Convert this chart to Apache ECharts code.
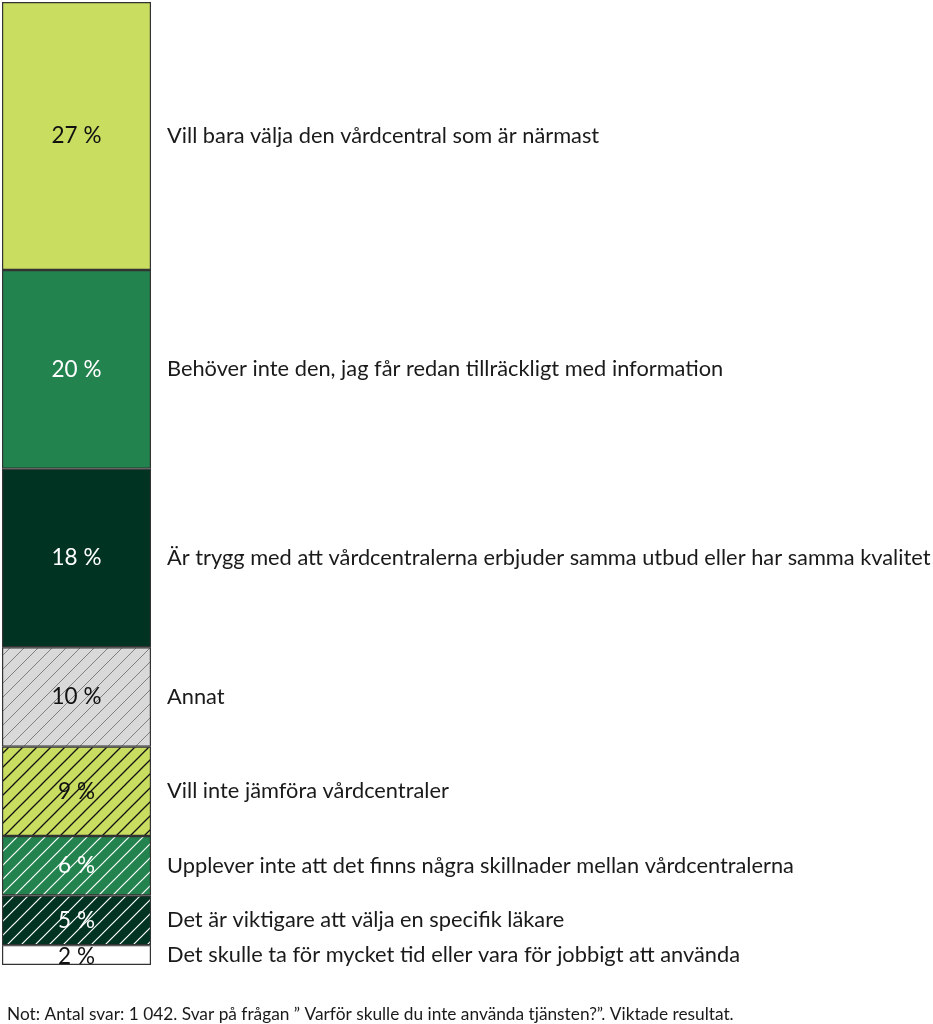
<!DOCTYPE html>
<html>
<head>
<meta charset="utf-8">
<script src="https://cdn.jsdelivr.net/npm/echarts@6/dist/echarts.min.js"></script>
<style>
html,body{margin:0;padding:0;background:#fff;}
#c{width:933px;height:1024px;}
</style>
</head>
<body>
<div id="c"></div>
<script>
const categories = [
  'Vill bara välja den vårdcentral som är närmast',
  'Behöver inte den, jag får redan tillräckligt med information',
  'Är trygg med att vårdcentralerna erbjuder samma utbud eller har samma kvalitet',
  'Annat',
  'Vill inte jämföra vårdcentraler',
  'Upplever inte att det finns några skillnader mellan vårdcentralerna',
  'Det är viktigare att välja en specifik läkare',
  'Det skulle ta för mycket tid eller vara för jobbigt att använda'
];
const values = [27, 20, 18, 10, 9, 6, 5, 2];
const valueLabels = ['27 %', '20 %', '18 %', '10 %', '9 %', '6 %', '5 %', '2 %'];
const note = 'Not: Antal svar: 1 042. Svar på frågan ” Varför skulle du inte använda tjänsten?”. Viktade resultat.';

const FONT = 'Lato';

function hatch(bg, line, w) {
  const s = 14;
  const c = document.createElement('canvas');
  c.width = s; c.height = s;
  const g = c.getContext('2d');
  g.fillStyle = bg; g.fillRect(0, 0, s, s);
  g.strokeStyle = line; g.lineWidth = w;
  g.beginPath();
  g.moveTo(-1, s + 1); g.lineTo(s + 1, -1);
  g.moveTo(-1, 1); g.lineTo(1, -1);
  g.moveTo(s - 1, s + 1); g.lineTo(s + 1, s - 1);
  g.stroke();
  return { image: c, repeat: 'repeat' };
}

const fills = [
  '#c9dd60',
  '#23834f',
  '#003322',
  hatch('#d9d9d9', '#808080', 1),
  hatch('#c9dd60', '#111111', 1.3),
  hatch('#23834f', '#ffffff', 1.2),
  hatch('#003322', '#ffffff', 1.2),
  '#ffffff'
];
const pctColors = ['#111', '#fff', '#fff', '#111', '#111', '#fff', '#fff', '#111'];

const series = [];
values.forEach((v, i) => {
  series.push({
    type: 'bar', stack: 'main', xAxisIndex: 0, yAxisIndex: 0,
    barWidth: '100%', data: [v], silent: true,
    itemStyle: { color: fills[i], borderColor: '#333', borderWidth: 1.2 },
    label: {
      show: true, position: 'right', distance: 16,
      formatter: categories[i], color: '#1a1a1a',
      fontFamily: FONT, fontSize: 21.8
    }
  });
});
values.forEach((v, i) => {
  series.push({
    type: 'bar', stack: 'pct', xAxisIndex: 1, yAxisIndex: 0,
    barWidth: '100%', data: [v], silent: true,
    itemStyle: { color: 'rgba(0,0,0,0)' },
    label: {
      show: true, position: 'inside', offset: [0, i === values.length - 1 ? 2 : 0],
      formatter: valueLabels[i], color: pctColors[i],
      fontFamily: FONT, fontSize: 22.5
    },
    z: 5
  });
});

const chart = echarts.init(document.getElementById('c'));
chart.setOption({
  animation: false,
  title: {
    text: note, left: 2, top: 1001,
    textStyle: { fontFamily: FONT, fontSize: 17.3, fontWeight: 'normal', color: '#1a1a1a' }
  },
  grid: { left: 2, top: 2, width: 149, height: 963 },
  xAxis: [
    { type: 'category', data: ['a'], show: false },
    { type: 'category', data: ['a'], show: false }
  ],
  yAxis: { type: 'value', inverse: true, min: 0, max: 97, show: false },
  series: series
});
</script>
</body>
</html>
